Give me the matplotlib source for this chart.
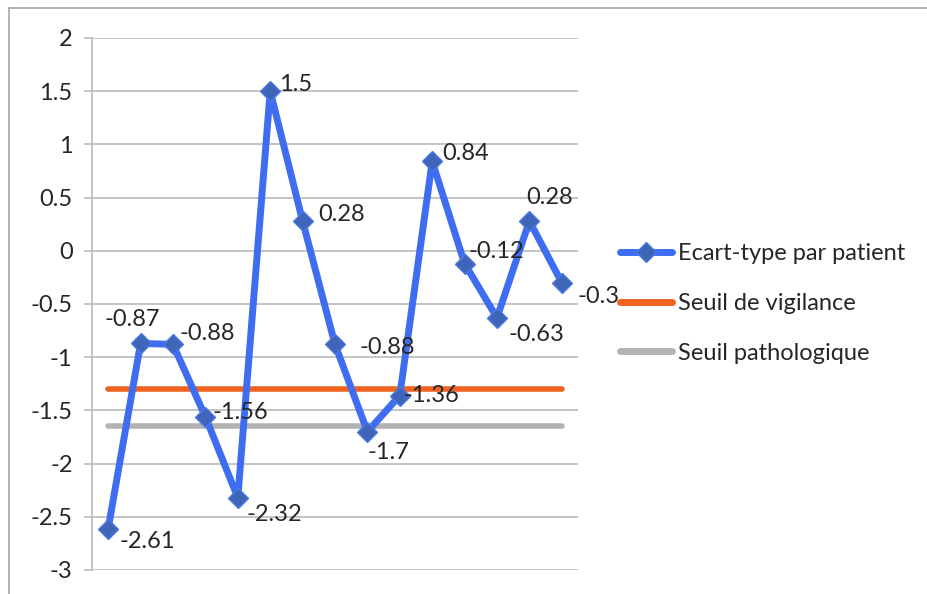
import matplotlib
matplotlib.use("Agg")
import matplotlib.pyplot as plt
from matplotlib.lines import Line2D

plt.rcParams['font.family'] = ['Lato', 'DejaVu Sans']

patients = list(range(1, 16))
ecart = [-2.61, -0.87, -0.88, -1.56, -2.32, 1.5, 0.28, -0.88, -1.7, -1.36, 0.84, -0.12, -0.63, 0.28, -0.3]
seuil_vigilance = -1.3
seuil_patho = -1.65
yticks = [2, 1.5, 1, 0.5, 0, -0.5, -1, -1.5, -2, -2.5, -3]
ytick_labels = ["2", "1.5", "1", "0.5", "0", "-0.5", "-1", "-1.5", "-2", "-2.5", "-3"]
series_names = ["Ecart-type par patient", "Seuil de vigilance", "Seuil pathologique"]

FS = 17

# label offsets in points (dx, dy, ha)
label_pos = [
    (8, -9, 'left'),
    (-6, 17, 'center'),
    (5, 8, 'left'),
    (5, 3, 'left'),
    (6, -12, 'left'),
    (6, 5, 'left'),
    (11, 5, 'left'),
    (18, -2, 'left'),
    (0, -15, 'left'),
    (3, 0, 'left'),
    (7, 6, 'left'),
    (3, 9, 'left'),
    (8, -12, 'left'),
    (-2, 17, 'left'),
    (11, -10, 'left'),
]

W, H = 928, 594
fig = plt.figure(figsize=(W / 100, H / 100), dpi=100)
ax = fig.add_axes([92 / W, 1 - 570 / H, (578 - 92) / W, (570 - 38) / H])

grid_c = '#BFBFBF'
line_c = '#3F6DF2'
orange = '#F0621E'
gray = '#B3B3B3'
text_c = '#262626'

ax.set_xlim(0.5, 15.5)
ax.set_ylim(-3, 2)
ax.set_yticks(yticks)
ax.set_yticklabels(ytick_labels, fontsize=FS, color=text_c)
ax.set_xticks([])
ax.yaxis.grid(True, color=grid_c, linewidth=1.3)
ax.set_axisbelow(True)
for s in ['top', 'right', 'bottom']:
    ax.spines[s].set_visible(False)
ax.spines['left'].set_color(grid_c)
ax.spines['left'].set_linewidth(1.3)
ax.tick_params(axis='y', length=6, width=1.3, color=grid_c, pad=8)

ax.plot([patients[0], patients[-1]], [seuil_vigilance] * 2, color=orange, lw=4, solid_capstyle='round', zorder=2)
ax.plot([patients[0], patients[-1]], [seuil_patho] * 2, color=gray, lw=4, solid_capstyle='round', zorder=2)
ax.plot(patients, ecart, color=line_c, lw=5, solid_capstyle='round', zorder=3,
        marker='D', markersize=10, markerfacecolor='#3F65B8', markeredgecolor='#4A78E6', markeredgewidth=1)

for x, v, (dx, dy, ha) in zip(patients, ecart, label_pos):
    ax.annotate(f"{v:g}", (x, v), xytext=(dx, dy), textcoords='offset points',
                ha=ha, va='center', fontsize=FS, color=text_c, zorder=5, annotation_clip=False)

handles = [
    Line2D([], [], color=line_c, lw=5, marker='D', markersize=10, markerfacecolor='#3F65B8', markeredgecolor='#4A78E6', solid_capstyle='round'),
    Line2D([], [], color=orange, lw=5, solid_capstyle='round'),
    Line2D([], [], color=gray, lw=5, solid_capstyle='round'),
]
fig.legend(handles, series_names, loc='upper left', bbox_to_anchor=(620 / W, 1 - 243 / H),
           frameon=False, fontsize=FS, handlelength=2.2, handletextpad=0.25, labelspacing=1.22,
           borderaxespad=0, borderpad=0, labelcolor=text_c)

# outer chart border
fig.add_artist(Line2D([9 / W, 9 / W], [0, 1 - 8 / H], color='#A6A6A6', lw=1.2, transform=fig.transFigure))
fig.add_artist(Line2D([9 / W, 1], [1 - 8 / H, 1 - 8 / H], color='#A6A6A6', lw=1.2, transform=fig.transFigure))

fig.savefig("out.png", dpi=100)
